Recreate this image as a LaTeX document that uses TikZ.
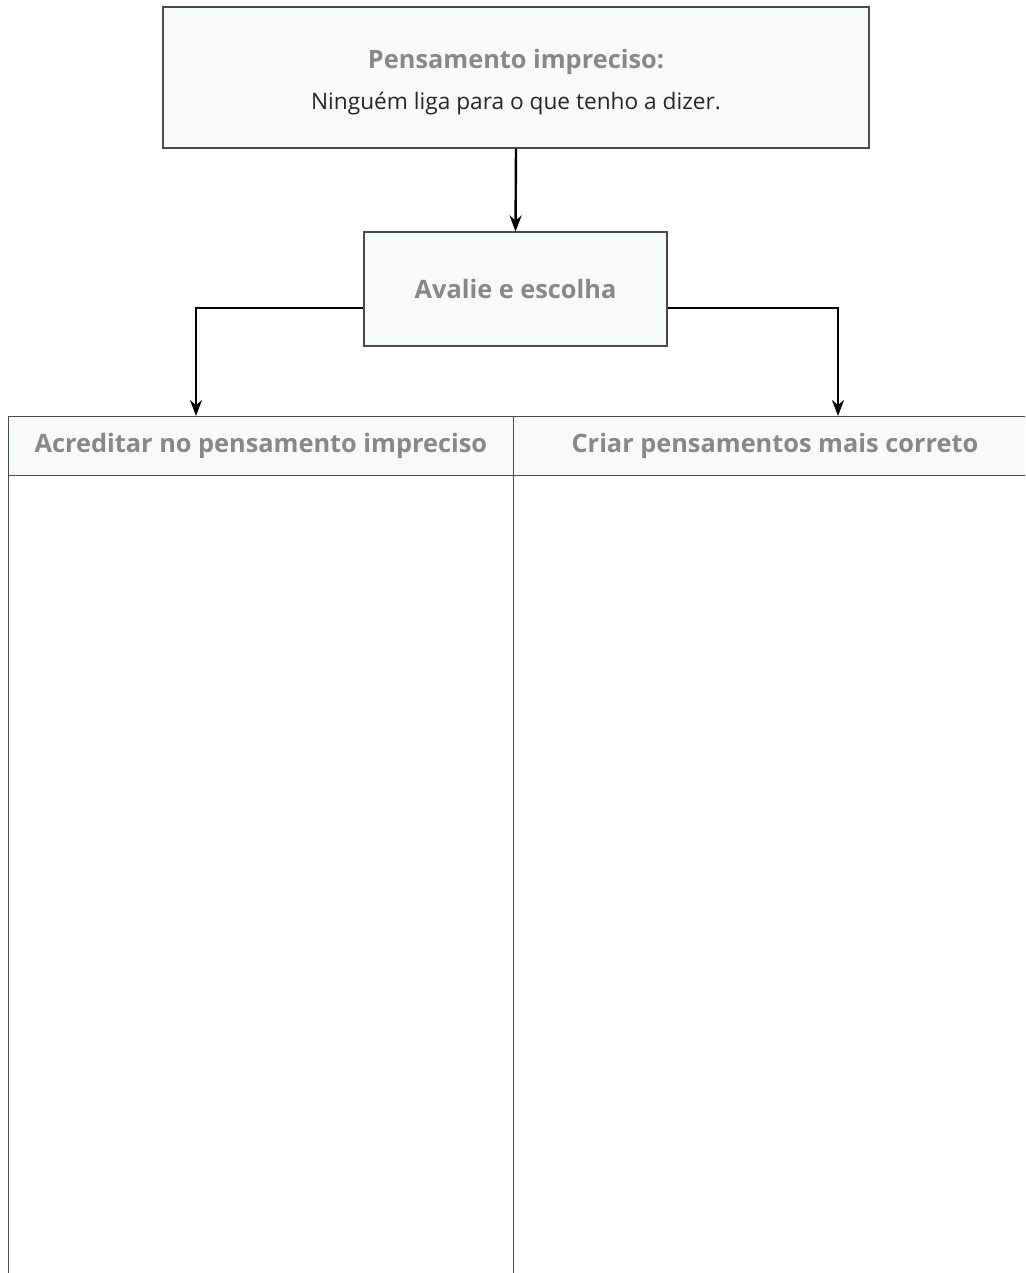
\documentclass[tikz,border=0pt]{standalone}
\usepackage{fontspec}
\setmainfont{Open Sans}
\usepackage{xcolor}
\usetikzlibrary{arrows.meta,positioning}

\definecolor{boxfill}{HTML}{F8F9F9}
\definecolor{hdrgray}{HTML}{888888}
\definecolor{rulegray}{HTML}{4A4A4A}

\begin{document}
\begin{tikzpicture}[
  x=0.75pt,y=-0.75pt,
  thoughtbox/.style={draw=rulegray,rectangle,fill=boxfill,line width=0.8pt,
                     minimum width=529.5pt,minimum height=105.75pt,
                     align=center,inner sep=0pt},
  choicebox/.style={draw=rulegray,rectangle,fill=boxfill,line width=0.8pt,
                    minimum width=227.25pt,minimum height=85.5pt,
                    align=center,inner sep=0pt},
  hdrcell/.style={draw=rulegray,rectangle,fill=boxfill,line width=0.6pt,
                  anchor=north west,minimum height=44.25pt,inner sep=0pt,
                  font=\fontsize{19}{23}\selectfont\bfseries,text=hdrgray},
  arr/.style={-{Stealth[length=12pt,width=9pt]},line width=1.8pt,black},
  rule/.style={draw=rulegray,line width=0.6pt}
]
\useasboundingbox (0,0) rectangle (1025,1273);

%% Thought and decision boxes
\node[thoughtbox] (thought) at (516,77.5) {};
\node at (516,82)
  {\begin{tabular}{@{}c@{}}
   {\fontsize{19}{23}\selectfont\bfseries\color{hdrgray}Pensamento impreciso:}\\[14pt]
   {\fontsize{17}{21}\selectfont\color{black!85}Ninguém liga para o que tenho a dizer.}
   \end{tabular}};
\node[choicebox] (choose) at (515.5,289)
  {\fontsize{19}{23}\selectfont\bfseries\color{hdrgray}Avalie e escolha};

%% Two-column table
\begin{scope}
  \clip (0,0) rectangle (1025,1273);
  \node[hdrcell,minimum width=378.75pt] (hdrleft) at (8,416)
    {Acreditar no pensamento impreciso};
  \node[hdrcell,minimum width=392.25pt] (hdrright) at (513,416)
    {Criar pensamentos mais correto};
  \draw[rule] (hdrleft.south west) -- ++(0,830);
  \draw[rule] (hdrleft.south east) -- ++(0,830);
  \draw[rule] (hdrright.south east) -- ++(0,830);
\end{scope}

%% Arrow tips on the header line
\coordinate (lefttip)  at (196,416);
\coordinate (righttip) at (838,416);

%% Arrows
\draw[arr] (thought.south) -- (choose.north);
\draw[arr] ([yshift=-14.25pt]choose.west) -| (lefttip);
\draw[arr] ([yshift=-14.25pt]choose.east) -| (righttip);
\end{tikzpicture}
\end{document}
